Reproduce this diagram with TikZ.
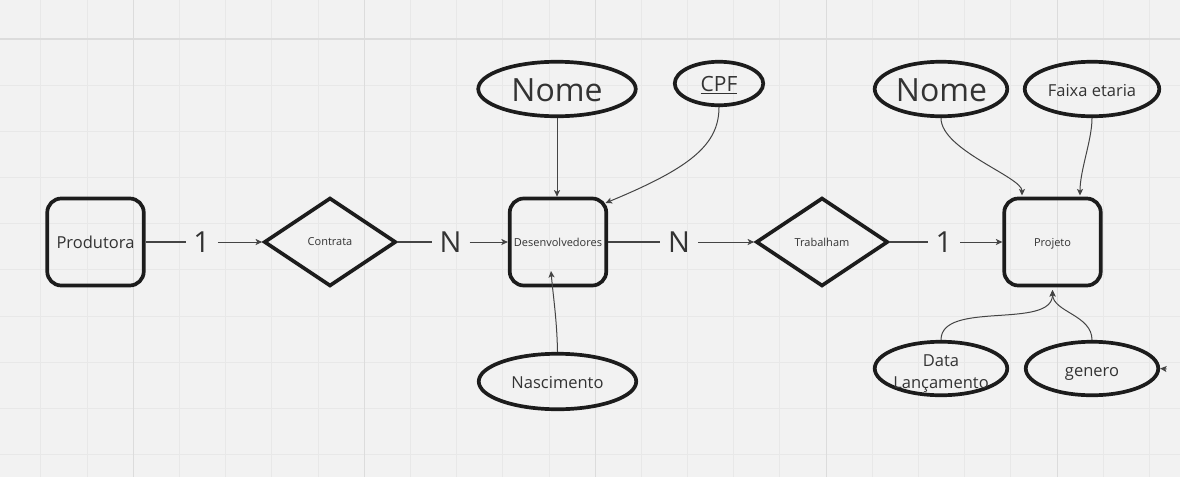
\documentclass[tikz,border=0pt]{standalone}
\usepackage{fontspec}
\setmainfont{Open Sans}
\usetikzlibrary{shapes.geometric,arrows.meta}
\definecolor{bgc}{HTML}{F2F2F2}
\definecolor{gridminor}{HTML}{E8E8E8}
\definecolor{gridmajor}{HTML}{DCDCDC}
\definecolor{shapec}{HTML}{1C1C1C}
\definecolor{txtc}{HTML}{333333}
\definecolor{linec}{HTML}{444444}
\tikzset{
  gminor/.style={draw=gridminor, line width=1pt},
  gmajor/.style={draw=gridmajor, line width=1.1pt},
  ent/.style={draw=shapec, line width=3.7pt, rounded corners=14pt, minimum width=96.5pt,
    minimum height=87pt, inner sep=0pt, text=txtc, text depth=0pt, font=\fontsize{11}{13}\selectfont},
  rel/.style={diamond, draw=shapec, line width=3.7pt, minimum width=132pt, minimum height=88.5pt,
    inner sep=0pt, text=txtc, text depth=0pt, font=\fontsize{11}{13}\selectfont},
  attr/.style={ellipse, draw=shapec, line width=3.7pt, inner sep=0pt},
  atxt/.style={text=txtc, inner sep=0pt, anchor=base},
  card/.style={text=txtc, inner sep=0pt, text depth=0pt, font=\fontsize{29}{34}\selectfont},
  conn/.style={draw=linec, line width=1.1pt},
  arr/.style={draw=linec, line width=1pt, -{Stealth[length=6.5pt,width=6pt,inset=1.5pt]}},
}
\begin{document}
\begin{tikzpicture}[x=1pt,y=-1pt]
% background and grid
\fill[bgc] (0,0) rectangle (1180,477);
\useasboundingbox (0,0) rectangle (1180,477);
\foreach \k in {-3,...,23} {\draw[gminor] ({133.3+46.19*\k},0) -- ({133.3+46.19*\k},477);}
\foreach \k in {-1,...,10} {\draw[gminor] (0,{39+46.19*\k}) -- (1180,{39+46.19*\k});}
\foreach \k in {0,5,10,15,20} {\draw[gmajor] ({133.3+46.19*\k},0) -- ({133.3+46.19*\k},477);}
\draw[gmajor, line width=1.5pt] (0,39) -- (1180,39);

% entities and relationships
\node[ent, font=\fontsize{16.5}{20}\selectfont] (prod) at (95.5,242) {Produtora};
\node[rel] (contrata) at (330,242) {Contrata};
\node[ent] (desen) at (558,242) {Desenvolvedores};
\node[rel] (trab) at (822,242) {Trabalham};
\node[ent] (proj) at (1052.5,242) {Projeto};

% cardinalities
\node[card, minimum width=32pt] (c1) at (201.7,242) {1};
\node[card, minimum width=37.6pt] (c2) at (450.5,242) {N};
\node[card, minimum width=38pt] (c3) at (679,242) {N};
\node[card, minimum width=32pt] (c4) at (944,242) {1};

\draw[conn] (prod.east) -- (c1.west);
\draw[arr] (c1.east) -- (contrata.west);
\draw[conn] (contrata.east) -- (c2.west);
\draw[arr] (c2.east) -- (desen.west);
\draw[conn] (desen.east) -- (c3.west);
\draw[arr] (c3.east) -- (trab.west);
\draw[conn] (trab.east) -- (c4.west);
\draw[arr] (c4.east) -- (proj.west);

% attributes
\node[attr, minimum width=157.5pt, minimum height=54.5pt] (nomeA) at (557,89) {};
\node[atxt, font=\fontsize{32}{38}\selectfont] (nomeAt) at (557,101.5) {Nome};
\node[attr, minimum width=88.5pt, minimum height=43.5pt] (cpf) at (719,83.5) {};
\node[atxt, font=\fontsize{21}{25}\selectfont] (cpft) at (719,91.7) {\underline{CPF}};
\node[attr, minimum width=157.5pt, minimum height=55.5pt] (nasc) at (557.5,381.5) {};
\node[atxt, font=\fontsize{16.5}{20}\selectfont] (nasct) at (557.5,388.3) {Nascimento};
\node[attr, minimum width=132.5pt, minimum height=54.5pt] (nomeB) at (941,89) {};
\node[atxt, font=\fontsize{32}{38}\selectfont] (nomeBt) at (941.5,101.5) {Nome};
\node[attr, minimum width=134.5pt, minimum height=54.5pt] (faixa) at (1092,89) {};
\node[atxt, font=\fontsize{16.5}{20}\selectfont] (faixat) at (1092,96) {Faixa etaria};
\node[attr, minimum width=132.5pt, minimum height=53.5pt] (dataL) at (941,368.5) {};
\node[text=txtc, inner sep=0pt, align=center, font=\fontsize{16.5}{22.3}\selectfont] (dataLt) at (941,373.3) {Data\\Lançamento};
\node[attr, minimum width=132.5pt, minimum height=53.5pt] (genero) at (1092,368.5) {};
\node[atxt, font=\fontsize{16.5}{20}\selectfont] (generot) at (1092,376) {genero};

% attribute connectors
\coordinate (cpfEnd) at (605.5,203);
\coordinate (nascEnd) at (551,271);
\coordinate (nomeBEnd) at (1022,195.5);
\coordinate (faixaEnd) at (1080,195.5);
\coordinate (projBot) at (1052.5,290);
\coordinate (stray) at (1166.5,369);

\draw[arr] (nomeA.south) -- (nomeA.south |- desen.north);
\draw[arr] (cpf.south) .. controls (719,145) and (690,168) .. (cpfEnd);
\draw[arr] (nasc.north) .. controls (557,320) and (553,295) .. (nascEnd);
\draw[arr] (nomeB.south) .. controls (941,150) and (1022,177) .. (nomeBEnd);
\draw[arr] (faixa.south) .. controls (1092,140) and (1080,170) .. (faixaEnd);
\draw[arr] (dataL.north) .. controls (941,300) and (1052.5,330) .. (projBot);
\draw[arr] (genero.north) .. controls (1092,315) and (1053,312) .. (projBot);
\draw[arr] (stray) -- (genero.east);
\end{tikzpicture}
\end{document}
